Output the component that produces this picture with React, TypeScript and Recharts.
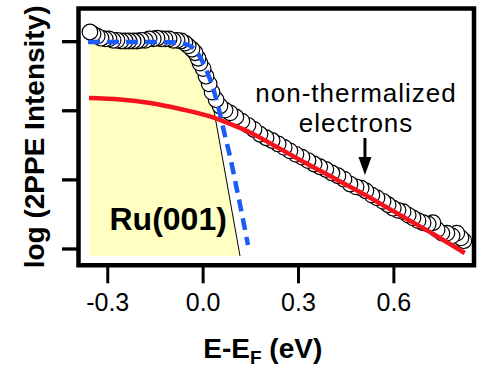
import {
  ComposedChart, XAxis, YAxis, Scatter, Line, Area,
  ReferenceArea, ReferenceLine, ReferenceDot,
} from 'recharts'

const FONT = '"Liberation Sans", Arial, Helvetica, sans-serif'

// axes: energy E-EF in eV, log intensity in decades (arbitrary offset)
const xTicks = [-0.3, 0.0, 0.3, 0.6]
const yTicks = [0, 1, 2, 3]
const xDomain = [-0.392, 0.852]
const yDomain = [-0.236, 3.48]

// measured 2PPE spectrum (open circles)
const ppeE = [
  -0.356, -0.346, -0.333, -0.321, -0.308, -0.296, -0.283, -0.271, -0.258, -0.245,
  -0.233, -0.22, -0.208, -0.195, -0.182, -0.17, -0.157, -0.145, -0.132, -0.12,
  -0.107, -0.094, -0.082, -0.069, -0.057, -0.047, -0.035, -0.025, -0.016, -0.01,
  0.0, 0.009, 0.019, 0.028, 0.041, 0.053, 0.069, 0.085, 0.103, 0.122,
  0.141, 0.16, 0.179, 0.198, 0.217, 0.236, 0.255, 0.273, 0.292, 0.311,
  0.33, 0.349, 0.367, 0.386, 0.405, 0.424, 0.443, 0.462, 0.481, 0.497,
  0.512, 0.531, 0.547, 0.566, 0.582, 0.598, 0.613, 0.629, 0.645, 0.66,
  0.676, 0.692, 0.708, 0.723, 0.736, 0.751, 0.767, 0.783, 0.798, 0.811, 0.82,
]
const ppeLog = [
  3.14, 3.11, 3.08, 3.05, 3.04, 3.04, 3.02, 3.02, 3.01, 3.01,
  3.01, 3.01, 3.01, 3.02, 3.02, 3.04, 3.04, 3.05, 3.04, 3.04,
  3.04, 3.02, 3.02, 3.01, 2.98, 2.94, 2.89, 2.84, 2.76, 2.69,
  2.61, 2.5, 2.39, 2.27, 2.16, 2.07, 2.01, 1.97, 1.91, 1.85,
  1.79, 1.73, 1.66, 1.61, 1.57, 1.52, 1.47, 1.42, 1.37, 1.33,
  1.28, 1.23, 1.19, 1.15, 1.1, 1.06, 1.01, 0.94, 0.9, 0.88,
  0.84, 0.78, 0.74, 0.69, 0.64, 0.59, 0.56, 0.54, 0.49, 0.45,
  0.41, 0.38, 0.36, 0.38, 0.28, 0.23, 0.23, 0.19, 0.23, 0.16, 0.12,
]

// non-thermalized electron fit (red)
const hotE = [-0.359, -0.261, -0.167, -0.072, 0.022, 0.085, 0.148, 0.226, 0.305, 0.399, 0.493, 0.619, 0.729, 0.823]
const hotLog = [2.185, 2.164, 2.113, 2.026, 1.918, 1.809, 1.686, 1.491, 1.288, 1.056, 0.825, 0.492, 0.203, -0.058]

// Fermi-Dirac fit (blue dashed)
const fermiE = [-0.362, -0.261, -0.167, -0.088, -0.047, -0.022, 0.0, 0.015, 0.031, 0.047, 0.066, 0.085, 0.104, 0.122, 0.141]
const fermiLog = [2.996, 2.996, 2.996, 2.988, 2.952, 2.865, 2.692, 2.533, 2.33, 2.069, 1.693, 1.331, 0.912, 0.507, 0.058]

// thermalized distribution (yellow shading) and its edge
const fillE = [-0.359, -0.167, -0.073, -0.035, -0.01, 0.009, 0.028, 0.116]
const fillLog = [3.0, 3.0, 2.98, 2.89, 2.76, 2.56, 2.16, -0.1]
const edgeE = [0.028, 0.116]
const edgeLog = [2.16, -0.1]

const pts = (xs: number[], ys: number[]) => xs.map((x, i) => ({ x, y: ys[i] }))
const ppeData = pts(ppeE, ppeLog).reverse()
const hotData = pts(hotE, hotLog)
const fermiData = pts(fermiE, fermiLog)
const fillData = pts(fillE, fillLog)
const edgeData = pts(edgeE, edgeLog)

const XLabel = ({ viewBox }: any) => (
  <text
    x={viewBox.x + viewBox.width / 2 - 13.5} y={viewBox.y + 92.5}
    textAnchor="middle" fontFamily={FONT} fontWeight="bold" fontSize={28} fill="#000"
  >
    E-E<tspan fontSize={19} dy={6}>F</tspan><tspan dy={-6}>{' (eV)'}</tspan>
  </text>
)

const YLabel = ({ viewBox }: any) => (
  <text
    transform={`translate(${viewBox.x + 25.5},${viewBox.y + viewBox.height / 2}) rotate(-90)`}
    textAnchor="middle" fontFamily={FONT} fontWeight="bold" fontSize={28} fill="#000"
  >
    log (2PPE Intensity)
  </text>
)

const RuLabel = ({ viewBox }: any) => (
  <text
    x={viewBox.x + viewBox.width / 2} y={viewBox.y + viewBox.height / 2}
    textAnchor="middle" fontFamily={FONT} fontWeight="bold" fontSize={32} fill="#000"
  >
    Ru(001)
  </text>
)

const NoteLabel = ({ viewBox }: any) => {
  const cx = viewBox.x + viewBox.width / 2
  const cy = viewBox.y + viewBox.height / 2
  return (
    <text x={cx} y={cy} textAnchor="middle" fontFamily={FONT} fontSize={26} letterSpacing={1} fill="#000">
      <tspan x={cx}>non-thermalized</tspan>
      <tspan x={cx} dy={30}>electrons</tspan>
    </text>
  )
}

const Arrow = (p: any) => (
  <g>
    <line x1={p.x1} y1={p.y1} x2={p.x2} y2={p.y2 - 16} stroke="#000" strokeWidth={3} />
    <polygon points={`${p.x2 - 6.5},${p.y2 - 18} ${p.x2 + 6.5},${p.y2 - 18} ${p.x2},${p.y2}`} fill="#000" />
  </g>
)

const Ring = (p: any) => (
  <circle cx={p.cx} cy={p.cy} r={7.8} fill="#fff" stroke="#000" strokeWidth={1.2} />
)

export default function App() {
  return (
    <div style={{ position: 'absolute', left: 0, top: 0, width: 479, height: 368, background: '#fff' }}>
      <ComposedChart
        width={479} height={368}
        margin={{ top: 8.5, right: 5, left: 18.5, bottom: 42.7 }}
      >
        <XAxis
          type="number" dataKey="x" domain={xDomain} ticks={xTicks} allowDataOverflow
          height={60} axisLine={false}
          tickLine={{ stroke: '#000', strokeWidth: 3 }} tickSize={18} tickMargin={10}
          tick={{ fill: '#000', fontSize: 25, fontFamily: FONT }}
          tickFormatter={(v: number) => v.toFixed(1)}
          label={XLabel}
        />
        <YAxis
          type="number" dataKey="y" domain={yDomain} ticks={yTicks} allowDataOverflow
          width={60} axisLine={false}
          tickLine={{ stroke: '#000', strokeWidth: 3.3 }} tickSize={16.5}
          tick={() => <g />}
          label={YLabel}
        />
        <Area
          data={fillData} dataKey="y" type="linear" baseValue={-0.1}
          fill="#ffffc2" fillOpacity={1} stroke="none" isAnimationActive={false}
        />
        <Line
          data={edgeData} dataKey="y" type="linear" stroke="#000" strokeWidth={1}
          dot={false} activeDot={false} isAnimationActive={false}
        />
        <Scatter data={ppeData} dataKey="y" shape={Ring} isAnimationActive={false} />
        <Line
          data={fermiData} dataKey="y" type="monotone" stroke="#1a5cf5" strokeWidth={4.5}
          strokeDasharray="12 7" dot={false} activeDot={false} isAnimationActive={false}
          zIndex={700}
        />
        <Line
          data={hotData} dataKey="y" type="monotone" stroke="#f5141e" strokeWidth={4.5}
          dot={false} activeDot={false} isAnimationActive={false} zIndex={700}
        />
        <ReferenceDot x={-0.11} y={0.275} r={0} fill="none" stroke="none" label={RuLabel} />
        <ReferenceDot x={0.481} y={2.127} r={0} fill="none" stroke="none" label={NoteLabel} />
        <ReferenceLine
          segment={[{ x: 0.509, y: 1.606 }, { x: 0.509, y: 1.071 }]}
          shape={Arrow} ifOverflow="visible"
        />
        <ReferenceArea
          x1={xDomain[0]} x2={xDomain[1]} y1={yDomain[0]} y2={yDomain[1]}
          fill="none" stroke="#000" strokeWidth={4.5} ifOverflow="visible" zIndex={800}
        />
      </ComposedChart>
    </div>
  )
}
